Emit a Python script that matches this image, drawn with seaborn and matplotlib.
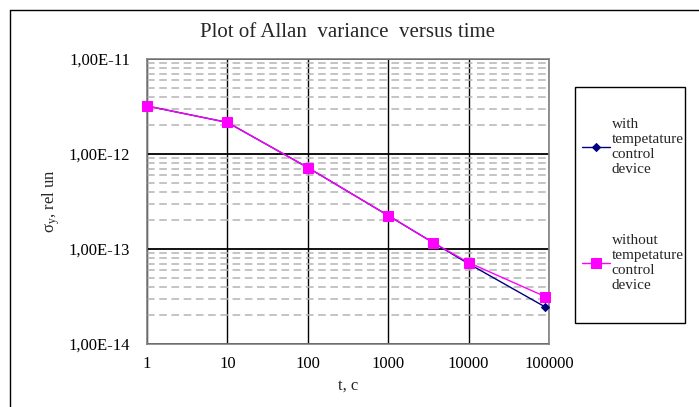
import numpy as np
import pandas as pd
import seaborn as sns
import matplotlib.pyplot as plt
from matplotlib.ticker import FixedLocator, FixedFormatter, NullFormatter

# time, s
t_with = [1, 10, 100, 1000, 3600, 10000, 90000]
sigma_with = [3.2e-12, 2.15e-12, 7.2e-13, 2.25e-13, 1.17e-13, 7.0e-14, 2.45e-14]

t_without = [1, 10, 100, 1000, 3600, 10000, 90000]
sigma_without = [3.2e-12, 2.15e-12, 7.2e-13, 2.25e-13, 1.17e-13, 7.2e-14, 3.15e-14]

x_ticks = [1, 10, 100, 1000, 10000, 100000]
x_tick_labels = ["1", "10", "100", "1000", "10000", "100000"]
y_ticks = [1e-14, 1e-13, 1e-12, 1e-11]
y_tick_labels = ["1,00E-14", "1,00E-13", "1,00E-12", "1,00E-11"]

label_with = "with\ntempetature\ncontrol\ndevice"
label_without = "without\ntempetature\ncontrol\ndevice"

sns.set_style("white")
plt.rcParams["font.family"] = ["Liberation Serif", "DejaVu Serif"]

df = pd.concat([
    pd.DataFrame({"t": t_with, "sigma": sigma_with, "series": label_with}),
    pd.DataFrame({"t": t_without, "sigma": sigma_without, "series": label_without}),
])

fig = plt.figure(figsize=(6.99, 4.07), dpi=100)
ax = fig.add_axes([147 / 699, 1 - 344 / 407, 402 / 699, 285 / 407])

sns.lineplot(data=df[df.series == label_with], x="t", y="sigma", ax=ax,
             color="#000080", marker="D", markersize=4, markeredgecolor="#000080",
             linewidth=1, label=label_with, clip_on=False, zorder=3)
sns.lineplot(data=df[df.series == label_without], x="t", y="sigma", ax=ax,
             color="#ff00ff", marker="s", markersize=7, markeredgecolor="#ff00ff",
             linewidth=1, label=label_without, clip_on=False, zorder=3)

ax.set_xscale("log")
ax.set_yscale("log")
ax.set_xlim(1, 100000)
ax.set_ylim(1e-14, 1e-11)

ax.xaxis.set_major_locator(FixedLocator(x_ticks))
ax.xaxis.set_major_formatter(FixedFormatter(x_tick_labels))
ax.xaxis.set_minor_locator(FixedLocator([]))
ax.yaxis.set_major_locator(FixedLocator(y_ticks))
ax.yaxis.set_major_formatter(FixedFormatter(y_tick_labels))
minor_y = [m * 10.0 ** e for e in range(-14, -11) for m in range(2, 10)]
ax.yaxis.set_minor_locator(FixedLocator(minor_y))
ax.yaxis.set_minor_formatter(NullFormatter())

ax.tick_params(axis="both", which="both", length=0, labelsize=12, colors="black")
ax.tick_params(axis="x", pad=9)
ax.tick_params(axis="y", pad=12)

ax.grid(True, which="major", axis="x", color="black", linewidth=1)
ax.grid(True, which="major", axis="y", color="black", linewidth=1.3)
ax.grid(True, which="minor", axis="y", color="#b4b4b4", linewidth=1.1,
        linestyle=(0, (5, 3)))
ax.set_axisbelow(True)

for s in ax.spines.values():
    s.set_color("#808080")
    s.set_linewidth(1.2)

ax.set_title("Plot of Allan  variance  versus time", fontsize=15, pad=16)
ax.set_xlabel("t, c", fontsize=12, labelpad=4)
ax.set_ylabel(r"$\mathregular{\sigma_y}$, rel un", fontsize=12, labelpad=5)

leg = ax.legend(loc="center left", bbox_to_anchor=(582 / 699, 1 - 205 / 407),
                bbox_transform=fig.transFigure, frameon=False,
                fontsize=11, handlelength=1.8, handletextpad=0.15,
                labelspacing=3.8, borderpad=0, borderaxespad=0)
for txt in leg.get_texts():
    txt.set_linespacing(1.2)

# legend box
fig.add_artist(plt.Rectangle((575 / 699, 1 - 323 / 407), 110 / 699, 236 / 407,
                             fill=False, edgecolor="black", linewidth=1,
                             transform=fig.transFigure))

# outer chart frame (left and top edges visible)
fig.add_artist(plt.Line2D([10 / 699, 10 / 699], [0, 1 - 10 / 407],
                          color="black", linewidth=1, transform=fig.transFigure))
fig.add_artist(plt.Line2D([10 / 699, 1], [1 - 10 / 407, 1 - 10 / 407],
                          color="black", linewidth=1, transform=fig.transFigure))

fig.savefig("out.png", dpi=100)
